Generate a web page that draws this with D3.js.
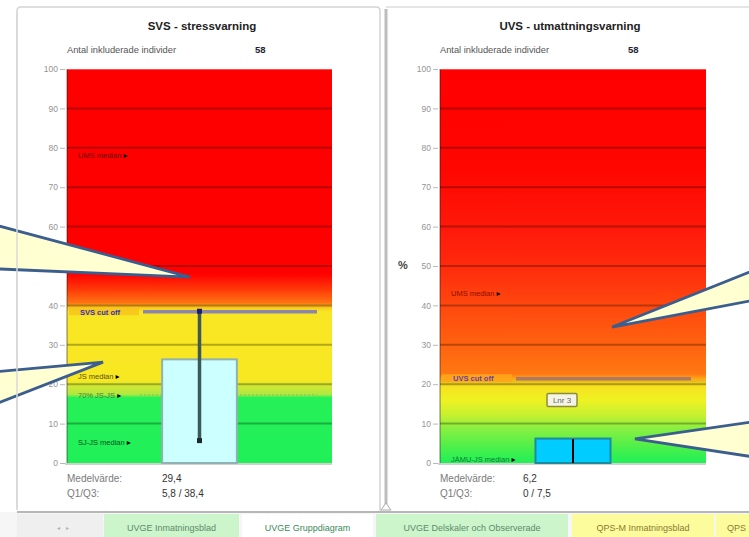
<!DOCTYPE html>
<html><head><meta charset="utf-8">
<script src="https://cdn.jsdelivr.net/npm/d3@7"></script>
<style>
html,body{margin:0;padding:0;background:#fff;overflow:hidden;}
svg{display:block;font-family:"Liberation Sans",Arial,sans-serif;}
</style></head><body>
<svg id="c" width="749" height="537"></svg>
<script>
// ---------- DATA ----------
const chartTitles = ["SVS - stressvarning", "UVS - utmattningsvarning"];
const categories = ["SVS", "UVS"];
const includedLabel = "Antal inkluderade individer";
const includedCounts = ["58", "58"];
const yTicks = [0, 10, 20, 30, 40, 50, 60, 70, 80, 90, 100];
const gridValues = [10, 20, 30, 40, 50, 60, 70, 80, 90];
const barValues = [26.3, 6.2];
const whiskerLow = [5.3, 0];
const whiskerHigh = [38.9, 6.1];
const cutoffValues = [38.4, 21.4];
const cutoffNames = ["SVS cut off", "UVS cut off"];
const meanLabel = "Medelvärde:";
const quartLabel = "Q1/Q3:";
const meanText = ["29,4", "6,2"];
const q1q3Text = ["5,8 / 38,4", "0 / 7,5"];
const refNamesSVS = ["UMS median", "JS median", "70% JS-JS", "SJ-JS median"];
const refValuesSVS = [78, 22, 17.3, 5.3];
const refNamesUVS = ["UMS median", "JÄMU-JS median"];
const refValuesUVS = [43, 1];
const dottedRefSVS = 17.3;
const pointLabelText = "Lnr 3";
const pointLabelValue = 16;
const sheetTabs = ["UVGE Inmatningsblad", "UVGE Gruppdiagram", "UVGE Delskaler och Observerade", "QPS-M Inmatningsblad", "QPS"];

// ---------- STYLE / LAYOUT ----------
const zonesSVS = [[100,"#ff0000"],[48,"#ff0000"],[44,"#ff3a08"],[40.6,"#ff7412"],[40,"#f8a818"],[39.2,"#f8d020"],[38.4,"#f8e622"],[21,"#f8e822"],[19.8,"#d4e832"],[17.4,"#b0e840"],[16.6,"#26f058"],[0,"#20f058"]];
const zonesUVS = [[100,"#ff0000"],[75,"#ff0600"],[60,"#ff180a"],[50,"#ff2a0c"],[40,"#ff480e"],[30,"#ff6210"],[22.6,"#ff7812"],[21.6,"#ffa018"],[20.6,"#e8c01c"],[19.6,"#f8e020"],[16,"#eef222"],[12,"#c4f030"],[9,"#8cf040"],[4,"#4cf04a"],[0,"#20f058"]];
const refColorsSVS = ["#6a0000", "#5a5010", "#4a8030", "#0c5020"];
const refColorsUVS = ["#8a1000", "#0c7a30"];

const svg = d3.select("#c");
const defs = svg.append("defs");
const y = d3.scaleLinear().domain([0, 100]).range([463, 69]);

const layouts = [
  {x0: 67, x1: 332, cx: 202, axisX: 65, zones: zonesSVS, refNames: refNamesSVS, refValues: refValuesSVS, refColors: refColorsSVS,
   barFill: "#ccffff", barStroke: "#8fb2b2", whisk: "#3c5858", whiskW: 3.5, cutColor: "#8c86a8", cutText: "#3434b4", cutBg: "#f8c41c",
   countX: 255, valX: 162},
  {x0: 440, x1: 706, cx: 570, axisX: 438, zones: zonesUVS, refNames: refNamesUVS, refValues: refValuesUVS, refColors: refColorsUVS,
   barFill: "#00ccff", barStroke: "#1c8c9c", whisk: "#000000", whiskW: 2, cutColor: "#ae7a64", cutText: "#6a40a8", cutBg: "#ffa41a",
   countX: 628, valX: 523}
];

// panel frames
svg.append("path")
  .attr("d", "M17,510 L17,11 Q17,7 21,7 L376,7 Q380,7 380,11 L380,512")
  .attr("fill", "#fff").attr("stroke", "#d4d4d4").attr("stroke-width", 1.5);
svg.append("line").attr("x1", 386).attr("x2", 749).attr("y1", 7).attr("y2", 7)
  .attr("stroke", "#dcdcdc").attr("stroke-width", 1.5);

layouts.forEach((L, i) => {
  const g = svg.append("g");
  const gid = "grad" + i;
  const grad = defs.append("linearGradient").attr("id", gid)
    .attr("gradientUnits", "userSpaceOnUse").attr("x1", 0).attr("x2", 0)
    .attr("y1", y(100)).attr("y2", y(0));
  grad.selectAll("stop").data(L.zones).join("stop")
    .attr("offset", d => (y(d[0]) - y(100)) / (y(0) - y(100)))
    .attr("stop-color", d => d[1]);
  g.append("rect").attr("x", L.x0).attr("y", y(100)).attr("width", L.x1 - L.x0)
    .attr("height", y(0) - y(100)).attr("fill", `url(#${gid})`);

  g.selectAll("line.grid").data(gridValues).join("line").attr("class", "grid")
    .attr("x1", L.x0).attr("x2", L.x1).attr("y1", d => y(d)).attr("y2", d => y(d))
    .attr("stroke", "rgba(0,0,0,0.28)").attr("stroke-width", 2);

  g.append("line").attr("x1", L.x0).attr("x2", L.x0).attr("y1", y(100)).attr("y2", y(0))
    .attr("stroke", "rgba(0,0,0,0.25)").attr("stroke-width", 2);
  g.append("line").attr("x1", L.x0).attr("x2", L.x1).attr("y1", y(100)).attr("y2", y(100))
    .attr("stroke", "rgba(255,255,255,0.4)").attr("stroke-width", 1.5);
  g.append("line").attr("x1", L.x0 - 2).attr("x2", L.x1).attr("y1", y(0) + 1).attr("y2", y(0) + 1)
    .attr("stroke", "#d0d0d0").attr("stroke-width", 2);

  const ax = g.append("g").attr("transform", `translate(${L.axisX},0)`)
    .call(d3.axisLeft(y).tickValues(yTicks).tickSize(5).tickPadding(2));
  ax.select(".domain").remove();
  ax.selectAll(".tick line").attr("stroke", "#b8b8b8");
  ax.selectAll(".tick text").attr("fill", "#949494").style("font-size", "8.5px")
    .style("font-family", "Liberation Sans, Arial, sans-serif");

  g.append("text").attr("x", L.x0 - 37).attr("y", 269).attr("text-anchor", "middle")
    .attr("fill", "#444").style("font-size", "11px").style("font-weight", "bold").text("%");

  g.append("text").attr("x", L.cx).attr("y", 30).attr("text-anchor", "middle")
    .attr("fill", "#222").style("font-size", "11.5px").style("font-weight", "bold").text(chartTitles[i]);
  g.append("text").attr("x", L.x0).attr("y", 53).attr("fill", "#555")
    .style("font-size", "9.3px").text(includedLabel);
  g.append("text").attr("x", L.countX).attr("y", 53).attr("fill", "#223")
    .style("font-size", "9.5px").style("font-weight", "bold").text(includedCounts[i]);

  const x = d3.scaleBand().domain([categories[i]]).range([L.x0, L.x1]).padding(0.56);
  const bx = x(categories[i]), bw = x.bandwidth(), bc = bx + bw / 2;

  g.append("line").attr("x1", L.x0 + 76).attr("x2", L.x1 - 15)
    .attr("y1", y(cutoffValues[i])).attr("y2", y(cutoffValues[i]))
    .attr("stroke", L.cutColor).attr("stroke-width", 3.5);
  g.append("rect").attr("x", L.x0 + 2).attr("y", y(cutoffValues[i]) - 4.5).attr("width", 70).attr("height", 8)
    .attr("fill", L.cutBg).attr("opacity", 0.85);
  g.append("text").attr("x", L.x0 + 13).attr("y", y(cutoffValues[i]) + 2.8)
    .attr("fill", L.cutText).style("font-size", "7.5px").style("font-weight", "bold").text(cutoffNames[i]);

  if (i === 0) {
    g.append("line").attr("x1", L.x0 + 73).attr("x2", L.x1 - 15)
      .attr("y1", y(dottedRefSVS)).attr("y2", y(dottedRefSVS))
      .attr("stroke", "#9ab860").attr("stroke-width", 1).attr("stroke-dasharray", "2,2");
  }

  g.append("rect").attr("x", bx).attr("y", y(barValues[i])).attr("width", bw)
    .attr("height", y(0) - y(barValues[i]))
    .attr("fill", L.barFill).attr("stroke", L.barStroke).attr("stroke-width", 2);

  g.append("line").attr("x1", bc).attr("x2", bc)
    .attr("y1", y(whiskerLow[i])).attr("y2", y(whiskerHigh[i]))
    .attr("stroke", L.whisk).attr("stroke-width", L.whiskW);
  if (i === 0) {
    g.append("rect").attr("x", bc - 2.5).attr("y", y(whiskerLow[i]) - 4).attr("width", 5).attr("height", 5).attr("fill", "#1a2a2a");
    g.append("rect").attr("x", bc - 2.5).attr("y", y(whiskerHigh[i]) - 1).attr("width", 5).attr("height", 5).attr("fill", "#1c1c70");
  }

  const refs = L.refNames.map((n, k) => ({name: n, value: L.refValues[k], color: L.refColors[k]}));
  const rt = g.selectAll("text.ref").data(refs).join("text").attr("class", "ref")
    .attr("x", L.x0 + 11).attr("y", d => y(d.value) + 2.8)
    .style("font-size", "7.5px");
  rt.append("tspan").attr("fill", d => d.color).text(d => d.name + " ");
  rt.append("tspan").attr("fill", "#000").style("font-family", "DejaVu Sans").style("font-size", "8px").text("\u25B8");

  if (i === 1) {
    const px = bc - 11, py = y(pointLabelValue);
    g.append("rect").attr("x", px - 15).attr("y", py - 6.5).attr("width", 30).attr("height", 13).attr("rx", 1.5)
      .attr("fill", "#f4f4e6").attr("stroke", "#8c8c3c").attr("stroke-width", 1.5);
    g.append("text").attr("x", px).attr("y", py + 3).attr("text-anchor", "middle")
      .attr("fill", "#666").style("font-size", "8px").text(pointLabelText);
  }

  g.append("text").attr("x", L.x0).attr("y", 482).attr("fill", "#7a7a7a").style("font-size", "10px").text(meanLabel);
  g.append("text").attr("x", L.x0).attr("y", 497).attr("fill", "#7a7a7a").style("font-size", "10px").text(quartLabel);
  g.append("text").attr("x", L.valX).attr("y", 482).attr("fill", "#333").style("font-size", "10px").text(meanText[i]);
  g.append("text").attr("x", L.valX).attr("y", 497).attr("fill", "#333").style("font-size", "10px").text(q1q3Text[i]);
});

function px(L, f) { return L.x0 + f * (L.x1 - L.x0); }
const callouts = [
  {L: layouts[0], tip: [0.464, 47.2], base: [[-6, 60.5], [-6, 49.3]]},
  {L: layouts[0], tip: [0.136, 25.6], base: [[-6, 23.1], [-6, 14.8]]},
  {L: layouts[1], tip: [0.647, 34.5], base: [[760, 49.5], [760, 41.6]]},
  {L: layouts[1], tip: [0.733, 6.1],  base: [[760, 10.7], [760, 1.3]]}
];
const cg = svg.append("g");
callouts.forEach(c => {
  const tip = [px(c.L, c.tip[0]), y(c.tip[1])];
  const b1 = [c.base[0][0], y(c.base[0][1])], b2 = [c.base[1][0], y(c.base[1][1])];
  cg.append("path").attr("d", `M${b1[0]},${b1[1]} L${tip[0]},${tip[1]} L${b2[0]},${b2[1]}`)
    .attr("fill", "#ffffd2").attr("stroke", "#3c5e8e").attr("stroke-width", 2.8).attr("stroke-linejoin", "miter");
});

svg.append("line").attr("x1", 17).attr("x2", 17).attr("y1", 12).attr("y2", 508)
  .attr("stroke", "#d8d8d8").attr("stroke-width", 1.5);
svg.append("line").attr("x1", 386).attr("x2", 386).attr("y1", 9).attr("y2", 508)
  .attr("stroke", "#bdbdbd").attr("stroke-width", 3);
svg.append("path").attr("d", "M381,510 L386,503 L391,510 Z").attr("fill", "#fff").attr("stroke", "#aaa").attr("stroke-width", 1);

svg.append("rect").attr("x", 0).attr("y", 512).attr("width", 749).attr("height", 25).attr("fill", "#f6f6f6");
svg.append("line").attr("x1", 17).attr("x2", 749).attr("y1", 512).attr("y2", 512).attr("stroke", "#b6b6b6").attr("stroke-width", 2.2);
svg.append("rect").attr("x", 17).attr("y", 514).attr("width", 86).attr("height", 23).attr("fill", "#efefef");
svg.append("text").attr("x", 57).attr("y", 530).attr("fill", "#b0b0b0").style("font-size", "6px").text("\u25C2");
svg.append("text").attr("x", 66).attr("y", 530).attr("fill", "#b0b0b0").style("font-size", "6px").text("\u25B8");
const tabLayout = [
  {x: 104, w: 135, fill: "#ccf5cc", color: "#5e8a6a"},
  {x: 242, w: 131, fill: "#ffffff", color: "#3a8a5a"},
  {x: 376, w: 192, fill: "#ccf5cc", color: "#5e8a6a"},
  {x: 572, w: 142, fill: "#fcfc9c", color: "#8a7a34"},
  {x: 716, w: 33, fill: "#fcfc9c", color: "#8a7a34"}
];
sheetTabs.forEach((t, k) => {
  const T = tabLayout[k];
  svg.append("rect").attr("x", T.x).attr("y", 514).attr("width", T.w).attr("height", 23).attr("fill", T.fill);
  const last = k === sheetTabs.length - 1;
  svg.append("text").attr("x", last ? T.x + 11 : T.x + T.w / 2).attr("y", 531)
    .attr("text-anchor", last ? "start" : "middle")
    .attr("fill", T.color).style("font-size", "9px").text(t);
});
</script>
</body></html>
